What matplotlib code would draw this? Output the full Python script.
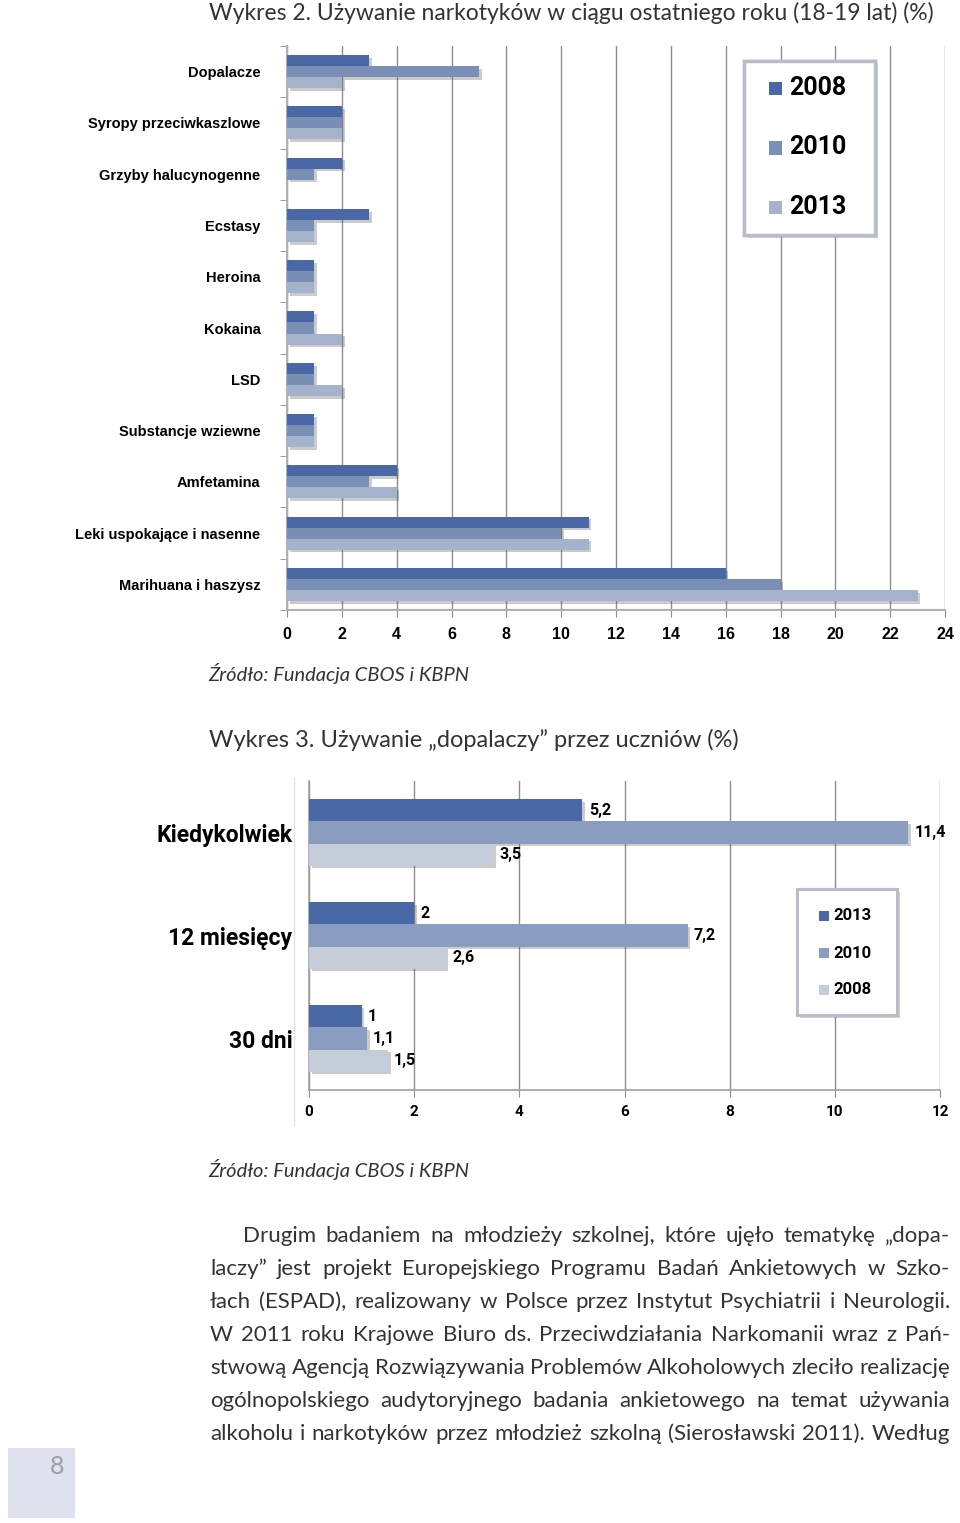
import matplotlib
matplotlib.use('Agg')
import matplotlib.pyplot as plt
import matplotlib.patheffects as pe
from matplotlib.patches import Rectangle, FancyBboxPatch
from matplotlib.lines import Line2D
import numpy as np

# chart 1 data (Wykres 2)
drugs = ['Dopalacze', 'Syropy przeciwkaszlowe', 'Grzyby halucynogenne', 'Ecstasy',
         'Heroina', 'Kokaina', 'LSD', 'Substancje wziewne', 'Amfetamina',
         'Leki uspokające i nasenne', 'Marihuana i haszysz']
use_2008 = [3, 2, 2, 3, 1, 1, 1, 1, 4, 11, 16]
use_2010 = [7, 2, 1, 1, 1, 1, 1, 1, 3, 10, 18]
use_2013 = [2, 2, 0, 1, 1, 2, 2, 1, 4, 11, 23]
years1 = ['2008', '2010', '2013']
xticks1 = list(range(0, 25, 2))

# chart 2 data (Wykres 3)
periods = ['Kiedykolwiek', '12 miesięcy', '30 dni']
dop_2013 = [5.2, 2, 1]
dop_2010 = [11.4, 7.2, 1.1]
dop_2008 = [3.5, 2.6, 1.5]
years2 = ['2013', '2010', '2008']
xticks2 = list(range(0, 13, 2))

title1 = 'Wykres 2. Używanie narkotyków w ciągu ostatniego roku (18-19 lat) (%)'
title2 = 'Wykres 3. Używanie „dopalaczy” przez uczniów (%)'
source = 'Źródło: Fundacja CBOS i KBPN'
paragraph = [
    'Drugim badaniem na młodzieży szkolnej, które ujęło tematykę „dopa-',
    'laczy” jest projekt Europejskiego Programu Badań Ankietowych w Szko-',
    'łach (ESPAD), realizowany w Polsce przez Instytut Psychiatrii i Neurologii.',
    'W 2011 roku Krajowe Biuro ds. Przeciwdziałania Narkomanii wraz z Pań-',
    'stwową Agencją Rozwiązywania Problemów Alkoholowych zleciło realizację',
    'ogólnopolskiego audytoryjnego badania ankietowego na temat używania',
    'alkoholu i narkotyków przez młodzież szkolną (Sierosławski 2011). Według',
]

W, H = 960, 1523
fig = plt.figure(figsize=(W / 100, H / 100), dpi=100)
fig.patch.set_facecolor('white')

light = ['Lato', 'DejaVu Sans']
cond = ['Roboto', 'DejaVu Sans']
lab1 = ['Liberation Sans', 'DejaVu Sans']
grid_c = '#8c8c8c'
shadow = [pe.withSimplePatchShadow(offset=(2, -2), shadow_rgbFace='#555555', alpha=0.3), pe.Normal()]


def fx(px):
    return px / W


def fy(py):
    return 1 - py / H


def axes_px(x0, y0, x1, y1):
    return fig.add_axes([fx(x0), fy(y1), fx(x1 - x0), (y1 - y0) / H])


# ---------- chart 1 ----------
ax1 = axes_px(287, 46, 945, 610)
pos = np.arange(len(drugs))
h = 0.215
cols1 = ['#4a68a6', '#7a8fb5', '#a4b2cc']
for k, (vals, c) in enumerate(zip([use_2008, use_2010, use_2013], cols1)):
    bars = ax1.barh(pos + (k - 1) * h, vals, height=h, color=c, label=years1[k], zorder=3)
    for b in bars:
        b.set_path_effects(shadow)
ax1.set_xlim(0, 24)
ax1.set_ylim(len(drugs) - 0.5, -0.5)
ax1.set_xticks(xticks1)
ax1.set_xticklabels([str(t) for t in xticks1], fontsize=11.5, fontweight='bold', family=lab1)
ax1.set_yticks(pos)
ax1.set_yticklabels(drugs, fontsize=10.5, fontweight='bold', family=lab1)
ax1.set_yticks(np.arange(-0.5, len(drugs)), minor=True)
ax1.tick_params(axis='y', which='major', length=0, pad=19)
ax1.tick_params(axis='y', which='minor', length=5, color=grid_c)
ax1.tick_params(axis='x', length=5, color=grid_c, pad=7)
ax1.grid(axis='x', color=grid_c, linewidth=1, zorder=0)
for s in ['top', 'right']:
    ax1.spines[s].set_visible(False)
for s in ['left', 'bottom']:
    ax1.spines[s].set_color('#b0b0b0')
    ax1.spines[s].set_linewidth(1.5)

# legend 1
box1 = FancyBboxPatch((fx(744), fy(235)), fx(131), (235 - 61) / H, boxstyle='square,pad=0',
                      transform=fig.transFigure, facecolor='white', edgecolor='#b8bdc9',
                      linewidth=2.5, zorder=5)
box1.set_path_effects([pe.withSimplePatchShadow(offset=(2, -2), alpha=0.25), pe.Normal()])
fig.add_artist(box1)
for i, (yr, c) in enumerate(zip(years1, cols1)):
    yy = 88 + i * 59.5
    fig.add_artist(Rectangle((fx(769), fy(yy + 7)), fx(13), 13 / H, transform=fig.transFigure,
                             facecolor=c, edgecolor='none', zorder=6))
    fig.text(fx(789), fy(yy), yr, fontsize=18, fontweight='bold', va='center', ha='left',
             family=cond, zorder=7)

# ---------- chart 2 ----------
ax2 = axes_px(309, 781, 940, 1090)
pos2 = np.arange(len(periods))
h2 = 0.215
cols2 = ['#4a68a6', '#8a9cc0', '#c5ccda']
for k, (vals, c) in enumerate(zip([dop_2013, dop_2010, dop_2008], cols2)):
    bars = ax2.barh(pos2 + (k - 1) * h2, vals, height=h2, color=c, label=years2[k], zorder=3)
    for b, v in zip(bars, vals):
        b.set_path_effects(shadow)
        ax2.text(v + 0.12, b.get_y() + b.get_height() / 2, ('%g' % v).replace('.', ','),
                 va='center', ha='left', fontsize=11.5, fontweight='bold', family=cond, zorder=4)
ax2.set_xlim(0, 12)
ax2.set_ylim(len(periods) - 0.5, -0.5)
ax2.set_xticks(xticks2)
ax2.set_xticklabels([str(t) for t in xticks2], fontsize=11, fontweight='bold', family=cond)
ax2.set_yticks(pos2)
ax2.set_yticklabels(periods, fontsize=16.5, fontweight='bold', family=cond)
ax2.tick_params(axis='y', length=0, pad=12)
ax2.tick_params(axis='x', length=5, color=grid_c, pad=6)
ax2.grid(axis='x', color=grid_c, linewidth=1, zorder=0)
for s in ['top', 'right']:
    ax2.spines[s].set_visible(False)
for s in ['left', 'bottom']:
    ax2.spines[s].set_color('#a0a0a0')
    ax2.spines[s].set_linewidth(1.2)
fig.add_artist(Line2D([fx(294), fx(294)], [fy(778), fy(1125)], transform=fig.transFigure,
                      color='#e3e3e3', linewidth=1))

# legend 2
box2 = FancyBboxPatch((fx(797), fy(1015)), fx(100), (1015 - 889) / H, boxstyle='square,pad=0',
                      transform=fig.transFigure, facecolor='white', edgecolor='#b8bdc9',
                      linewidth=2.2, zorder=5)
box2.set_path_effects([pe.withSimplePatchShadow(offset=(2, -2), alpha=0.25), pe.Normal()])
fig.add_artist(box2)
for i, (yr, c) in enumerate(zip(years2, cols2)):
    yy = 916 + i * 37
    fig.add_artist(Rectangle((fx(819), fy(yy + 5)), fx(10), 10 / H, transform=fig.transFigure,
                             facecolor=c, edgecolor='none', zorder=6))
    fig.text(fx(833), fy(yy), yr, fontsize=12, fontweight='bold', va='center', ha='left',
             family=cond, zorder=7)

# ---------- page text ----------
txt_c = '#333333'
fig.text(fx(209), fy(13), title1, fontsize=16.5, family=light, color=txt_c,
         va='center', ha='left')
fig.text(fx(209), fy(740), title2, fontsize=17, family=light, color=txt_c,
         va='center', ha='left')
for yy in [674, 1170]:
    fig.text(fx(208), fy(yy), source, fontsize=14.5, family=light,
             style='italic', color=txt_c, va='center', ha='left')

renderer = fig.canvas.get_renderer()


def justify(line, x0, x1, yy):
    words = line.split(' ')
    widths = []
    for w_ in words:
        t = fig.text(0, 0, w_, fontsize=16, family=light)
        widths.append(t.get_window_extent(renderer).width)
        t.remove()
    gap = (x1 - x0 - sum(widths)) / (len(words) - 1)
    x = x0
    for w_, wd in zip(words, widths):
        fig.text(fx(x), fy(yy), w_, fontsize=16, family=light,
                 color=txt_c, va='center', ha='left')
        x += wd + gap


for i, line in enumerate(paragraph):
    justify(line, 243 if i == 0 else 210, 950, 1236 + i * 33)

# page number box
fig.add_artist(Rectangle((fx(8), fy(1518)), fx(67), 70 / H, transform=fig.transFigure,
                         facecolor='#dfe1ee', edgecolor='none'))
fig.text(fx(57), fy(1467), '8', fontsize=18, family=light,
         color='#9a9dab', va='center', ha='center')

fig.savefig('out.png', dpi=100, facecolor='white')
